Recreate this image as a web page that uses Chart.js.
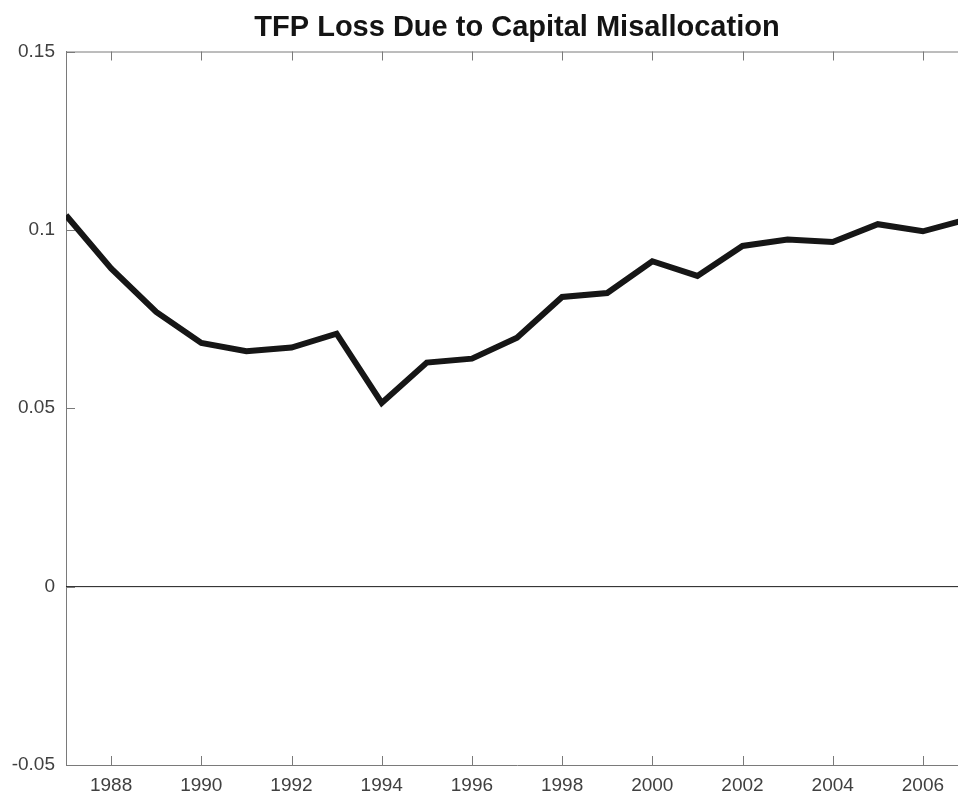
<!DOCTYPE html>
<html>
<head>
<meta charset="utf-8">
<script src="https://cdn.jsdelivr.net/npm/chart.js@4/dist/chart.umd.min.js"></script>
<style>
  html, body { margin: 0; padding: 0; background: #fff; overflow: hidden; }
  #wrap { width: 958px; height: 795px; overflow: hidden; }
  #box { width: 1031px; height: 795px; }
</style>
</head>
<body>
<div id="wrap"><div id="box"><canvas id="tfpChart"></canvas></div></div>
<script>
// data
var years   = [1987, 1988, 1989, 1990, 1991, 1992, 1993, 1994, 1995, 1996, 1997,
               1998, 1999, 2000, 2001, 2002, 2003, 2004, 2005, 2006, 2007];
var tfpLoss = [0.1041, 0.0892, 0.0770, 0.0683, 0.0660, 0.0670, 0.0709, 0.0515, 0.0628, 0.0639, 0.0698,
               0.0812, 0.0823, 0.0912, 0.0871, 0.0955, 0.0973, 0.0966, 0.1016, 0.0996, 0.1030];
var xTicks = [1988, 1990, 1992, 1994, 1996, 1998, 2000, 2002, 2004, 2006];
var yTicks = [-0.05, 0, 0.05, 0.1, 0.15];

var axisColor = '#7a7a7a'
var labelColor = '#404040'
var fontFamily = '"Liberation Sans", Helvetica, Arial, sans-serif'

// matlab style: box on, ticks pointing inwards
var boxTicks = {
  id: 'boxTicks',
  afterDatasetsDraw: function(chart) {
    var ctx = chart.ctx, a = chart.chartArea
    var xs = chart.scales.x, ys = chart.scales.y
    var len = 9
    ctx.save()
    ctx.strokeStyle = axisColor
    ctx.lineWidth = 1
    ctx.beginPath()
    ctx.moveTo(a.left, a.top + 0.5)
    ctx.lineTo(a.right, a.top + 0.5)
    ctx.moveTo(a.right - 0.5, a.top)
    ctx.lineTo(a.right - 0.5, a.bottom)
    xTicks.forEach(function(v) {
      var px = Math.round(xs.getPixelForValue(v)) + 0.5
      ctx.moveTo(px, a.bottom)
      ctx.lineTo(px, a.bottom - len)
      ctx.moveTo(px, a.top)
      ctx.lineTo(px, a.top + len)
    })
    yTicks.forEach(function(v) {
      var py = Math.round(ys.getPixelForValue(v)) + 0.5
      ctx.moveTo(a.left, py)
      ctx.lineTo(a.left + len, py)
    })
    ctx.stroke()
    ctx.restore()
  }
}

var ctx = document.getElementById('tfpChart').getContext('2d')
new Chart(ctx, {
  type: 'line',
  data: {
    datasets: [{
      label: 'zero',
      data: [{x: years[0], y: 0}, {x: years[years.length - 1], y: 0}],
      borderColor: '#1a1a1a',
      borderWidth: 1,
      pointRadius: 0,
      order: 2
    }, {
      label: 'TFP loss',
      data: years.map(function(y, i) { return {x: y, y: tfpLoss[i]} }),
      borderColor: '#161616',
      borderWidth: 6,
      pointRadius: 0,
      tension: 0,
      clip: 0,
      order: 1
    }]
  },
  options: {
    responsive: true,
    maintainAspectRatio: false,
    animation: false,
    layout: { padding: { left: 0, top: 0, bottom: 0, right: 63 } },
    plugins: {
      legend: { display: false },
      tooltip: { enabled: false },
      title: {
        display: true,
        fullSize: false,
        text: 'TFP Loss Due to Capital Misallocation',
        color: '#141414',
        font: { family: fontFamily, size: 29, weight: 'bold' },
        padding: { top: 11, bottom: 5.7 }
      }
    },
    scales: {
      x: {
        type: 'linear',
        min: 1987,
        max: 2007,
        afterBuildTicks: function(s) { s.ticks = xTicks.map(function(v) { return {value: v} }) },
        afterFit: function(s) { s.height = 30 },
        grid: { display: false, drawTicks: false },
        border: { display: true, color: axisColor, width: 1 },
        ticks: {
          color: labelColor,
          padding: 9,
          maxRotation: 0,
          font: { family: fontFamily, size: 19 },
          callback: function(v) { return String(v) }
        }
      },
      y: {
        type: 'linear',
        min: -0.05,
        max: 0.15,
        afterBuildTicks: function(s) { s.ticks = yTicks.map(function(v) { return {value: v} }) },
        afterFit: function(s) { s.width = 66 },
        grid: { display: false, drawTicks: false },
        border: { display: true, color: axisColor, width: 1 },
        ticks: {
          color: labelColor,
          padding: 11,
          font: { family: fontFamily, size: 19 },
          callback: function(v) { return String(Number(v.toFixed(2))) }
        }
      }
    }
  },
  plugins: [boxTicks]
})
</script>
</body>
</html>
